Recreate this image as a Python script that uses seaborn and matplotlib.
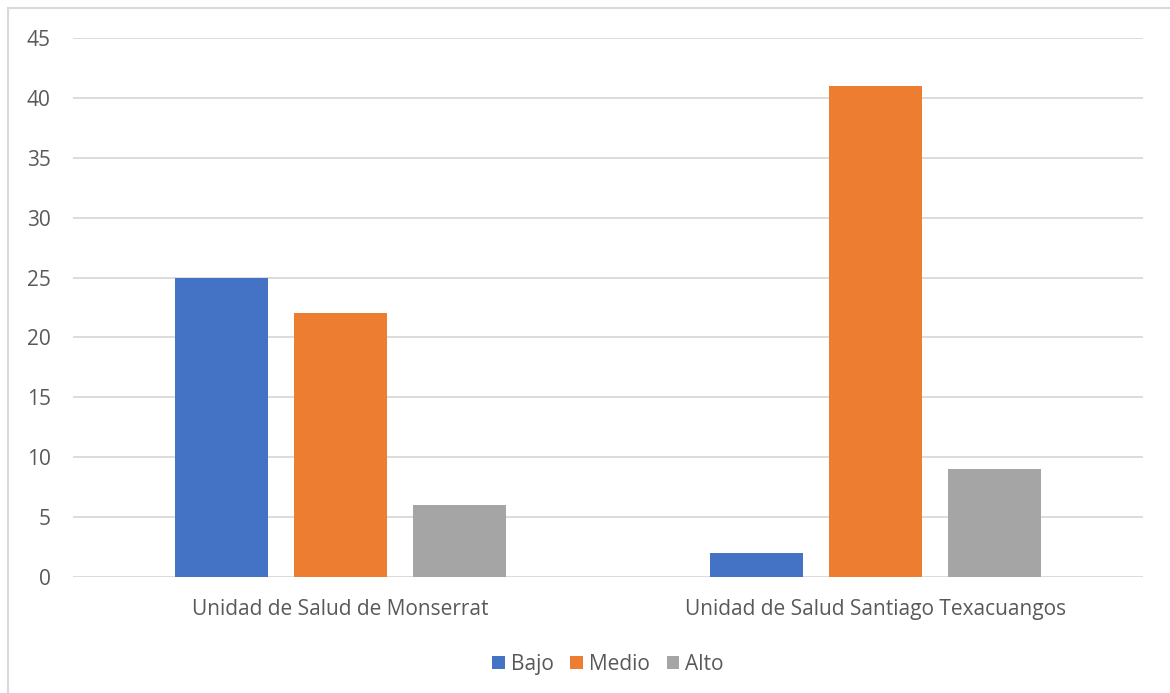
import numpy as np
import pandas as pd
import matplotlib
matplotlib.use("Agg")
import matplotlib.pyplot as plt
import seaborn as sns
from matplotlib.patches import Rectangle

categories = ["Unidad de Salud de Monserrat", "Unidad de Salud Santiago Texacuangos"]
levels = ["Bajo", "Medio", "Alto"]
bajo = [25, 2]
medio = [22, 41]
alto = [6, 9]
colors = ["#4472C4", "#ED7D31", "#A5A5A5"]

df = pd.DataFrame({
    "unidad": categories * 3,
    "nivel": ["Bajo"] * 2 + ["Medio"] * 2 + ["Alto"] * 2,
    "valor": bajo + medio + alto,
})

sns.set_style("white")
plt.rcParams["font.family"] = ["Open Sans", "DejaVu Sans"]
txt = "#595959"

fig = plt.figure(figsize=(11.7, 6.93), dpi=100)
ax = fig.add_axes([73 / 1170, 1 - 577 / 693, 1070 / 1170, 539 / 693])

sns.barplot(data=df, x="unidad", y="valor", hue="nivel", hue_order=levels,
            palette=colors, width=0.667, gap=0.217, saturation=1,
            linewidth=0, ax=ax, legend=True)

ax.set_xlim(-0.5, 1.5)
ax.set_ylim(0, 45)
ax.set_yticks(range(0, 46, 5))
ax.yaxis.grid(True, color="#d9d9d9", linewidth=1.3)
ax.set_axisbelow(True)
for s in ax.spines.values():
    s.set_visible(False)
ax.tick_params(axis="both", length=0, labelsize=15, labelcolor=txt)
ax.tick_params(axis="y", pad=16)
ax.tick_params(axis="x", pad=16)
ax.set_xlabel("")
ax.set_ylabel("")

ax.legend(loc="center", bbox_to_anchor=(0.5, -0.162), ncol=3, frameon=False,
          fontsize=15, labelcolor=txt, handlelength=0.6, handleheight=0.6,
          handletextpad=0.3, columnspacing=0.8)

fig.patches.append(Rectangle((8 / 1170, -0.1), 1.2, 1 - 8 / 693 + 0.1,
                             transform=fig.transFigure, fill=False,
                             edgecolor="#d9d9d9", linewidth=1.5))

fig.savefig("out.png", dpi=100)
